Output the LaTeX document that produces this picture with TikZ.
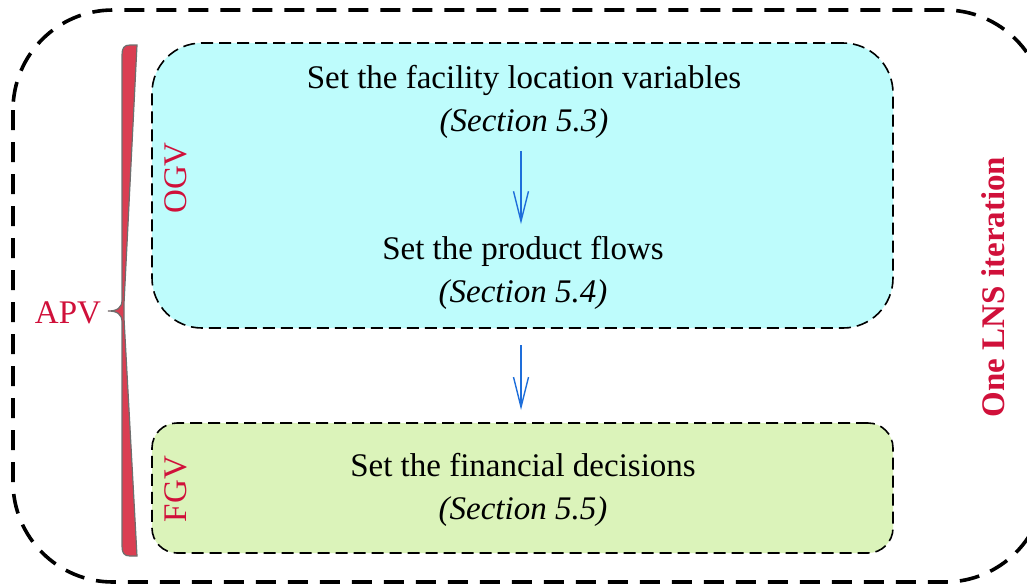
\documentclass[tikz,border=0pt]{standalone}
\usepackage{fontspec}
\setmainfont{Liberation Serif}[ItalicFont={Liberation Serif Italic},BoldFont={Liberation Serif Bold}]
\usetikzlibrary{arrows.meta}
\definecolor{cyanfill}{RGB}{190,252,252}
\definecolor{greenfill}{RGB}{219,243,186}
\definecolor{labred}{RGB}{208,16,58}
\definecolor{bracered}{RGB}{218,62,82}
\definecolor{bracegray}{RGB}{110,110,110}
\definecolor{arrblue}{RGB}{30,110,218}
\tikzset{
  stagebox/.style={draw=black, line width=1.6pt, dash pattern=on 12pt off 6pt,
    inner sep=0pt, outer sep=0pt},
  steptext/.style={align=center, font=\fontsize{33}{43}\selectfont, inner sep=0pt},
  flowarrow/.style={draw=arrblue, line width=1.4pt, -{Straight Barb[length=30pt,width=15pt]}},
  redlabel/.style={text=labred, font=\fontsize{33}{39}\selectfont, inner sep=0pt},
}
\begin{document}
\begin{tikzpicture}[x=1pt,y=-1pt]
\useasboundingbox (0,0) rectangle (1027,587);
\clip (0,0) rectangle (1027,587);
% outer loop box
\draw[line width=3.6pt, dash pattern=on 20pt off 12pt, rounded corners=100pt]
  (13,10) rectangle (1045,582);
% stage boxes
\node[stagebox, fill=cyanfill, rounded corners=50pt, minimum width=741pt, minimum height=285pt]
  (ogvbox) at (522.5,185.5) {};
\node[stagebox, fill=greenfill, rounded corners=25pt, minimum width=741pt, minimum height=130pt]
  (fgvbox) at (522.5,488) {};
% texts
\node[steptext] (t1) at (524,102) {Set the facility location variables\\\textit{(Section 5.3)}};
\node[steptext] (t2) at (523,273) {Set the product flows\\\textit{(Section 5.4)}};
\node[steptext] (t3) at (523,490) {Set the financial decisions\\\textit{(Section 5.5)}};
% arrows
\draw[flowarrow, shorten <=12pt, shorten >=12pt] (t1.south -| 521,0) -- (t2.north -| 521,0);
\draw[flowarrow, shorten <=17pt, shorten >=13pt] (ogvbox.south -| 521,0) -- (fgvbox.north -| 521,0);
% side labels
\node[redlabel, rotate=90] (ogv) at (176,178) {OGV};
\node[redlabel, rotate=90] (fgv) at (176,489) {FGV};
\node[redlabel, font=\fontsize{33}{39}\selectfont\bfseries, rotate=90] (lns) at (993,287) {One LNS iteration};
\node[redlabel] (apv) at (68,313) {APV};
% brace
\draw[fill=bracered, draw=bracegray, line width=1.2pt]
  (137,45) -- (130,45) .. controls (124,45) and (122,48) .. (122,55)
  -- (122,300) .. controls (122,308) and (117,311) .. (108,311)
  .. controls (117,311) and (122,314) .. (122,322)
  -- (122,546) .. controls (122,553) and (124,556) .. (130,556)
  -- (137,556) -- (124,318) -- (124,304) -- cycle;
\end{tikzpicture}
\end{document}
